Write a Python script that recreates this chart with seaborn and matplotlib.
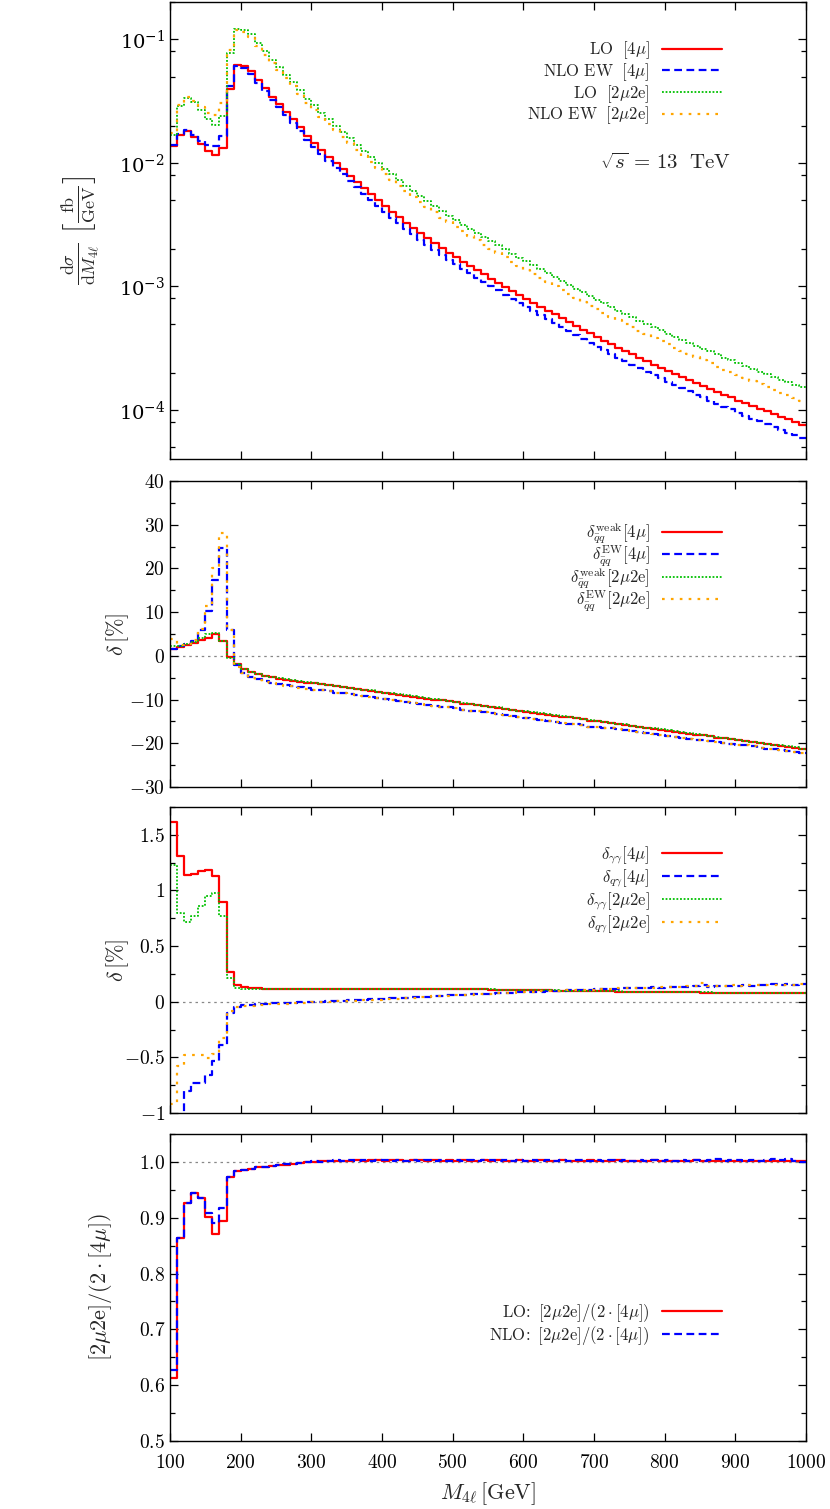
import numpy as np
import pandas as pd
import matplotlib
matplotlib.use("Agg")
import matplotlib.pyplot as plt
import seaborn as sns
from matplotlib.ticker import MultipleLocator, LogLocator, FuncFormatter, NullFormatter

# ---------------- data (10 GeV bins from 100 to 1000 GeV) ----------------
BIN_LO, BIN_HI, BIN_W = 100, 1000, 10
x_ticks = [100, 200, 300, 400, 500, 600, 700, 800, 900, 1000]

# panel 1: dsigma/dM4l [fb/GeV]
lo_4mu = [0.01368, 0.01675, 0.01816, 0.01633, 0.01426, 0.01259, 0.01161, 0.01330, 0.0397, 0.0618,
          0.0610, 0.0556, 0.0470, 0.0403, 0.0344, 0.0301, 0.0260, 0.0226, 0.0195, 0.01656,
          0.01459, 0.01274, 0.01127, 0.01000, 0.00887, 0.00787, 0.00698, 0.00622, 0.00556, 0.00498,
          0.00447, 0.00402, 0.00362, 0.00327, 0.00296, 0.00269, 0.00245, 0.00223, 0.00204, 0.00187,
          0.00172, 0.00158, 0.00146, 0.00135, 0.00125, 0.001156, 0.001072, 0.000993, 0.000920, 0.000855,
          0.000794, 0.000738, 0.000685, 0.000637, 0.000593, 0.000552, 0.000514, 0.000479, 0.000446, 0.000416,
          0.000388, 0.000363, 0.000340, 0.000318, 0.000299, 0.000281, 0.000264, 0.000248, 0.000233, 0.000220,
          0.000207, 0.000195, 0.000185, 0.000174, 0.000165, 0.000156, 0.000148, 0.000140, 0.000132, 0.000126,
          0.000119, 0.000113, 0.000107, 0.000102, 0.0000971, 0.0000923, 0.0000879, 0.0000838, 0.0000798, 0.0000760]
nlo_4mu = [0.01389, 0.01712, 0.01863, 0.01689, 0.01510, 0.01389, 0.01362, 0.01657, 0.0420, 0.0604,
           0.0586, 0.0529, 0.0445, 0.0380, 0.0323, 0.0282, 0.0243, 0.0210, 0.0181, 0.01533,
           0.01347, 0.01173, 0.01036, 0.00916, 0.00811, 0.00718, 0.00635, 0.00565, 0.00504, 0.00450,
           0.00403, 0.00361, 0.00325, 0.00293, 0.00264, 0.00239, 0.00218, 0.00198, 0.00180, 0.00165,
           0.00151, 0.00139, 0.00128, 0.00118, 0.00109, 0.001005, 0.000929, 0.000858, 0.000793, 0.000735,
           0.000681, 0.000632, 0.000585, 0.000542, 0.000503, 0.000468, 0.000434, 0.000404, 0.000375, 0.000349,
           0.000325, 0.000303, 0.000284, 0.000265, 0.000248, 0.000232, 0.000218, 0.000204, 0.000191, 0.000180,
           0.000169, 0.000159, 0.000150, 0.000141, 0.000133, 0.000126, 0.000119, 0.000112, 0.000106, 0.000101,
           0.0000948, 0.0000898, 0.0000849, 0.0000806, 0.0000765, 0.0000725, 0.0000689, 0.0000655, 0.0000622, 0.0000591]
lo_2mu2e = [0.01677, 0.02891, 0.03363, 0.03086, 0.02669, 0.02269, 0.02022, 0.02378, 0.0773, 0.1216,
            0.1203, 0.1099, 0.0931, 0.0799, 0.0683, 0.0598, 0.0517, 0.0451, 0.0389, 0.03309,
            0.02922, 0.02551, 0.02257, 0.02004, 0.01777, 0.01577, 0.01399, 0.01246, 0.01114, 0.00998,
            0.00896, 0.00806, 0.00725, 0.00655, 0.00593, 0.00539, 0.00491, 0.00447, 0.00409, 0.00375,
            0.00345, 0.00317, 0.00293, 0.00271, 0.00251, 0.002317, 0.002148, 0.001990, 0.001844, 0.001713,
            0.001591, 0.001479, 0.001373, 0.001277, 0.001188, 0.001106, 0.001030, 0.000960, 0.000894, 0.000834,
            0.000778, 0.000727, 0.000681, 0.000637, 0.000599, 0.000563, 0.000529, 0.000497, 0.000467, 0.000441,
            0.000415, 0.000391, 0.000371, 0.000349, 0.000331, 0.000313, 0.000297, 0.000281, 0.000265, 0.000252,
            0.000238, 0.000226, 0.000214, 0.000204, 0.0001946, 0.0001850, 0.0001761, 0.0001679, 0.0001599, 0.0001523]
nlo_2mu2e = [0.01745, 0.02958, 0.03450, 0.03192, 0.02827, 0.02525, 0.02427, 0.03039, 0.0817, 0.1189,
             0.1156, 0.1045, 0.0881, 0.0753, 0.0641, 0.0561, 0.0484, 0.0419, 0.0361, 0.03063,
             0.02699, 0.02351, 0.02076, 0.01836, 0.01625, 0.01439, 0.01273, 0.01132, 0.01010, 0.00902,
             0.00808, 0.00723, 0.00651, 0.00587, 0.00529, 0.00479, 0.00437, 0.00397, 0.00361, 0.00331,
             0.00303, 0.00279, 0.00257, 0.00236, 0.00218, 0.002014, 0.001862, 0.001719, 0.001589, 0.001473,
             0.001365, 0.001267, 0.001172, 0.001086, 0.001008, 0.000938, 0.000870, 0.000810, 0.000752, 0.000699,
             0.000651, 0.000607, 0.000569, 0.000531, 0.000497, 0.000465, 0.000437, 0.000409, 0.000383, 0.000361,
             0.000339, 0.000319, 0.000301, 0.000283, 0.000267, 0.000253, 0.000238, 0.000224, 0.000212, 0.000202,
             0.0001900, 0.0001800, 0.0001701, 0.0001615, 0.0001533, 0.0001453, 0.0001381, 0.0001313, 0.0001246, 0.0001184]

# panel 2: delta_qq [%]
d_weak_4mu = [1.5, 2.0, 2.4, 3.0, 3.6, 4.1, 4.9, 3.4, -0.3, -1.8,
              -3.0, -3.7, -4.2, -4.6, -4.9, -5.2, -5.5, -5.7, -5.9, -6.1,
              -6.3, -6.5, -6.7, -7.0, -7.2, -7.4, -7.6, -7.8, -8.0, -8.3,
              -8.5, -8.7, -8.9, -9.1, -9.3, -9.6, -9.8, -10.0, -10.2, -10.4,
              -10.6, -10.9, -11.1, -11.3, -11.5, -11.7, -11.9, -12.2, -12.4, -12.6,
              -12.8, -13.0, -13.2, -13.5, -13.7, -13.9, -14.1, -14.3, -14.5, -14.8,
              -15.0, -15.2, -15.4, -15.6, -15.8, -16.1, -16.3, -16.5, -16.7, -16.9,
              -17.1, -17.4, -17.6, -17.8, -18.0, -18.2, -18.4, -18.7, -18.9, -19.1,
              -19.3, -19.5, -19.7, -20.0, -20.2, -20.4, -20.6, -20.8, -21.0, -21.3]
d_ew_4mu = [1.5, 2.2, 2.6, 3.4, 5.9, 10.3, 17.3, 24.6, 5.9, -2.2,
            -3.9, -4.9, -5.4, -5.8, -6.1, -6.4, -6.7, -6.9, -7.2, -7.4,
            -7.7, -7.9, -8.1, -8.4, -8.6, -8.8, -9.0, -9.2, -9.4, -9.7,
            -9.9, -10.1, -10.3, -10.5, -10.7, -11.0, -11.2, -11.4, -11.6, -11.8,
            -12.0, -12.3, -12.5, -12.7, -12.9, -13.1, -13.3, -13.6, -13.8, -14.0,
            -14.2, -14.4, -14.6, -14.9, -15.1, -15.3, -15.5, -15.7, -15.9, -16.2,
            -16.2, -16.4, -16.6, -16.8, -17.0, -17.3, -17.5, -17.7, -17.9, -18.1,
            -18.3, -18.6, -18.8, -19.0, -19.2, -19.2, -19.4, -19.7, -19.9, -20.1,
            -20.3, -20.5, -20.7, -21.0, -21.2, -21.4, -21.6, -21.8, -22.0, -22.3]
d_weak_2mu2e = [2.3, 2.2, 2.7, 3.2, 4.0, 5.0, 5.3, 3.5, -0.5, -1.8,
                -2.9, -3.6, -4.1, -4.5, -4.8, -5.1, -5.4, -5.6, -5.8, -6.0,
                -6.2, -6.4, -6.6, -6.9, -7.1, -7.3, -7.5, -7.7, -7.9, -8.2,
                -8.4, -8.6, -8.8, -9.0, -9.2, -9.5, -9.7, -9.9, -10.1, -10.3,
                -10.5, -10.8, -11.0, -11.2, -11.4, -11.6, -11.8, -12.1, -12.3, -12.5,
                -12.7, -12.9, -13.1, -13.4, -13.6, -13.8, -14.0, -14.2, -14.4, -14.7,
                -14.9, -15.1, -15.3, -15.5, -15.7, -16.0, -16.2, -16.4, -16.6, -16.8,
                -17.0, -17.3, -17.5, -17.7, -17.9, -18.1, -18.3, -18.6, -18.8, -19.0,
                -19.2, -19.4, -19.6, -19.9, -20.1, -20.3, -20.5, -20.7, -20.9, -21.2]
d_ew_2mu2e = [3.8, 2.5, 2.8, 3.6, 6.2, 11.4, 20.0, 28.0, 6.0, -2.5,
              -4.0, -5.0, -5.5, -5.9, -6.2, -6.5, -6.8, -7.0, -7.3, -7.5,
              -7.7, -7.9, -8.1, -8.4, -8.6, -8.8, -9.0, -9.2, -9.4, -9.7,
              -9.9, -10.1, -10.3, -10.5, -10.7, -11.0, -11.2, -11.4, -11.6, -11.8,
              -12.0, -12.3, -12.5, -12.7, -12.9, -13.1, -13.3, -13.6, -13.8, -14.0,
              -14.2, -14.4, -14.6, -14.9, -15.1, -15.3, -15.5, -15.7, -15.9, -16.2,
              -16.2, -16.4, -16.6, -16.8, -17.0, -17.3, -17.5, -17.7, -17.9, -18.1,
              -18.3, -18.6, -18.8, -19.0, -19.2, -19.2, -19.4, -19.7, -19.9, -20.1,
              -20.3, -20.5, -20.7, -21.0, -21.2, -21.4, -21.6, -21.8, -22.0, -22.3]

# panel 3: photon-induced corrections [%]
d_aa_4mu = [1.618, 1.312, 1.138, 1.147, 1.177, 1.183, 1.132, 0.892, 0.267, 0.153,
            0.132, 0.123, 0.120, 0.118, 0.117, 0.116, 0.116, 0.115, 0.115, 0.115,
            0.115, 0.116, 0.116, 0.116, 0.116, 0.117, 0.117, 0.117, 0.117, 0.117,
            0.117, 0.117, 0.116, 0.116, 0.116, 0.115, 0.115, 0.114, 0.114, 0.113,
            0.112, 0.112, 0.111, 0.110, 0.110, 0.109, 0.108, 0.107, 0.106, 0.105,
            0.104, 0.103, 0.102, 0.101, 0.100, 0.099, 0.098, 0.097, 0.096, 0.095,
            0.094, 0.093, 0.092, 0.091, 0.090, 0.089, 0.088, 0.087, 0.086, 0.085,
            0.085, 0.084, 0.084, 0.083, 0.083, 0.082, 0.082, 0.081, 0.081, 0.080,
            0.080, 0.079, 0.079, 0.078, 0.078, 0.077, 0.077, 0.076, 0.076, 0.075]
d_qa_4mu = [-1.3, -1.1, -0.805, -0.730, -0.730, -0.655, -0.535, -0.385, -0.099, -0.045,
            -0.033, -0.027, -0.022, -0.018, -0.015, -0.012, -0.010, -0.007, -0.005, -0.003,
            0.000, 0.002, 0.005, 0.007, 0.010, 0.013, 0.015, 0.018, 0.021, 0.024,
            0.027, 0.030, 0.033, 0.036, 0.040, 0.043, 0.046, 0.050, 0.053, 0.056,
            0.059, 0.061, 0.065, 0.066, 0.071, 0.072, 0.076, 0.079, 0.080, 0.086,
            0.086, 0.091, 0.090, 0.096, 0.097, 0.099, 0.104, 0.102, 0.108, 0.107,
            0.112, 0.110, 0.118, 0.113, 0.121, 0.120, 0.125, 0.121, 0.129, 0.127,
            0.132, 0.128, 0.136, 0.131, 0.140, 0.146, 0.133, 0.141, 0.138, 0.145,
            0.140, 0.149, 0.142, 0.152, 0.146, 0.155, 0.148, 0.156, 0.150, 0.158]
d_aa_2mu2e = [1.228, 0.793, 0.717, 0.771, 0.861, 0.951, 0.973, 0.766, 0.216, 0.126,
              0.111, 0.111, 0.112, 0.113, 0.114, 0.116, 0.117, 0.117, 0.117, 0.117,
              0.117, 0.118, 0.118, 0.118, 0.118, 0.118, 0.118, 0.118, 0.118, 0.118,
              0.118, 0.118, 0.117, 0.117, 0.117, 0.116, 0.116, 0.115, 0.115, 0.114,
              0.113, 0.113, 0.112, 0.111, 0.111, 0.110, 0.109, 0.108, 0.107, 0.106,
              0.105, 0.104, 0.103, 0.102, 0.101, 0.100, 0.099, 0.098, 0.097, 0.096,
              0.095, 0.094, 0.093, 0.092, 0.091, 0.090, 0.089, 0.088, 0.087, 0.086,
              0.086, 0.085, 0.085, 0.084, 0.084, 0.083, 0.083, 0.082, 0.082, 0.081,
              0.081, 0.080, 0.080, 0.079, 0.079, 0.078, 0.078, 0.077, 0.077, 0.076]
d_qa_2mu2e = [-0.916, -0.580, -0.475, -0.480, -0.475, -0.505, -0.469, -0.325, -0.087, -0.050,
              -0.040, -0.034, -0.030, -0.026, -0.022, -0.019, -0.016, -0.013, -0.010, -0.008,
              -0.005, -0.002, 0.001, 0.003, 0.006, 0.009, 0.011, 0.014, 0.017, 0.020,
              0.023, 0.026, 0.029, 0.033, 0.036, 0.040, 0.043, 0.047, 0.050, 0.054,
              0.058, 0.060, 0.063, 0.067, 0.069, 0.073, 0.075, 0.078, 0.082, 0.083,
              0.087, 0.089, 0.092, 0.094, 0.098, 0.099, 0.101, 0.105, 0.106, 0.109,
              0.111, 0.114, 0.115, 0.119, 0.119, 0.123, 0.124, 0.127, 0.127, 0.131,
              0.130, 0.134, 0.133, 0.137, 0.138, 0.165, 0.140, 0.143, 0.142, 0.146,
              0.144, 0.148, 0.147, 0.150, 0.149, 0.152, 0.151, 0.154, 0.153, 0.156]

# panel 4: [2mu2e]/(2*[4mu])
ratio_lo = [0.613, 0.863, 0.926, 0.945, 0.936, 0.901, 0.871, 0.894, 0.973, 0.984,
            0.986, 0.988, 0.990, 0.991, 0.993, 0.994, 0.995, 0.997, 0.998, 0.999,
            1.000, 1.001, 1.001, 1.002, 1.002, 1.002, 1.003, 1.002, 1.003, 1.003,
            1.002, 1.003, 1.003, 1.002, 1.003, 1.003, 1.002, 1.003, 1.002, 1.003,
            1.002, 1.003, 1.002, 1.002, 1.003, 1.002, 1.003, 1.002, 1.002, 1.003,
            1.002, 1.002, 1.003, 1.002, 1.002, 1.003, 1.002, 1.002, 1.002, 1.003,
            1.002, 1.002, 1.002, 1.003, 1.002, 1.002, 1.002, 1.002, 1.003, 1.002,
            1.002, 1.002, 1.002, 1.002, 1.003, 1.002, 1.002, 1.002, 1.001, 1.002,
            1.002, 1.002, 1.001, 1.002, 1.002, 1.001, 1.002, 1.001, 1.001, 1.001]
ratio_nlo = [0.628, 0.864, 0.926, 0.945, 0.936, 0.909, 0.891, 0.917, 0.973, 0.984,
             0.986, 0.988, 0.990, 0.991, 0.993, 0.994, 0.996, 0.997, 0.998, 0.999,
             1.001, 1.000, 1.002, 1.003, 1.001, 1.004, 1.002, 1.003, 1.001, 1.004,
             1.003, 1.002, 1.004, 1.001, 1.003, 1.002, 1.004, 1.002, 1.003, 1.001,
             1.004, 1.002, 1.003, 1.001, 1.004, 1.003, 1.002, 1.004, 1.001, 1.003,
             1.002, 1.004, 1.002, 1.003, 1.001, 1.004, 1.002, 1.003, 1.004, 1.001,
             1.003, 1.002, 1.004, 1.002, 1.003, 1.001, 1.004, 1.002, 1.003, 1.002,
             1.004, 1.001, 1.003, 1.002, 1.004, 1.002, 1.003, 1.005, 1.002, 1.003,
             1.004, 1.002, 1.003, 1.001, 1.004, 1.005, 1.003, 1.006, 1.002, 0.999]

# ---------------- style ----------------
sns.set_style("ticks")
plt.rcParams.update({
    "mathtext.fontset": "cm",
    "font.family": ["DejaVu Serif"],
    "axes.linewidth": 1.0,
    "xtick.direction": "in", "ytick.direction": "in",
    "xtick.top": True, "ytick.right": True,
    "xtick.major.size": 6, "ytick.major.size": 6,
    "xtick.minor.size": 3.5, "ytick.minor.size": 3.5,
    "xtick.color": "black", "ytick.color": "black",
    "axes.edgecolor": "black",
})

RED, BLUE, GREEN, ORANGE = "#ff0000", "#0000ff", "#00c000", "#ffa500"
STY = {
    "red": dict(color=RED, linestyle="-", lw=1.6),
    "blue": dict(color=BLUE, linestyle=(0, (3.5, 2)), lw=1.6),
    "green": dict(color=GREEN, linestyle=(0, (1, 1)), lw=1.3),
    "orange": dict(color=ORANGE, linestyle=(0, (1.2, 2.8)), lw=1.6),
}

edges = np.arange(BIN_LO, BIN_HI + BIN_W, BIN_W)


def step(ax, vals, sty, label):
    assert len(vals) == len(edges) - 1
    df = pd.DataFrame({"M": edges, "v": list(vals) + [vals[-1]]})
    sns.lineplot(data=df, x="M", y="v", ax=ax, drawstyle="steps-post",
                 estimator=None, sort=False, label=label, **STY[sty])


W, H = 830, 1509
fig = plt.figure(figsize=(W / 100, H / 100), dpi=100)
left, width = 170 / W, 636 / W


def mkax(top_px, bot_px):
    return fig.add_axes([left, (H - bot_px) / H, width, (bot_px - top_px) / H])


ax1 = mkax(2, 459)
ax2 = mkax(481, 787)
ax3 = mkax(807, 1113)
ax4 = mkax(1134, 1441)

TICKFS = 14
LEGFS = 12
LABFS = 16
num_fmt = FuncFormatter(lambda v, p: "$%g$" % v if abs(v) > 1e-9 else "$0$")

# panel 1
step(ax1, lo_4mu, "red", r"$\mathrm{LO}\ \ [4\mu]$")
step(ax1, nlo_4mu, "blue", r"$\mathrm{NLO\ EW}\ \ [4\mu]$")
step(ax1, lo_2mu2e, "green", r"$\mathrm{LO}\ \ [2\mu2\mathrm{e}]$")
step(ax1, nlo_2mu2e, "orange", r"$\mathrm{NLO\ EW}\ \ [2\mu2\mathrm{e}]$")
ax1.set_yscale("log")
ax1.set_ylim(4.0e-5, 0.201)
ax1.yaxis.set_major_locator(LogLocator(base=10, numticks=10))
ax1.yaxis.set_minor_locator(LogLocator(base=10, subs=(2.0, 5.0, 8.0), numticks=20))
ax1.yaxis.set_minor_formatter(NullFormatter())
ax1.set_ylabel(r"$\frac{\mathrm{d}\sigma}{\mathrm{d}M_{4\ell}}\ \left[\frac{\mathrm{fb}}{\mathrm{GeV}}\right]$",
               fontsize=18.5)
ax1.yaxis.set_label_coords(-0.140, 0.5)
ax1.text(0.882, 0.648, r"$\sqrt{s}\,=\,13\ \ \mathrm{TeV}$", transform=ax1.transAxes,
         ha="right", va="center", fontsize=15)

# panel 2
ax2.axhline(0, color="#888888", lw=0.9, ls=(0, (2, 3)), zorder=0)
step(ax2, d_weak_4mu, "red", r"$\delta^{\mathrm{weak}}_{\bar{q}q}[4\mu]$")
step(ax2, d_ew_4mu, "blue", r"$\delta^{\mathrm{EW}}_{\bar{q}q}[4\mu]$")
step(ax2, d_weak_2mu2e, "green", r"$\delta^{\mathrm{weak}}_{\bar{q}q}[2\mu2\mathrm{e}]$")
step(ax2, d_ew_2mu2e, "orange", r"$\delta^{\mathrm{EW}}_{\bar{q}q}[2\mu2\mathrm{e}]$")
ax2.set_ylim(-30, 40)
ax2.yaxis.set_major_locator(MultipleLocator(10))
ax2.yaxis.set_minor_locator(MultipleLocator(5))
ax2.yaxis.set_major_formatter(num_fmt)
ax2.set_ylabel(r"$\delta\,[\%]$", fontsize=LABFS)
ax2.yaxis.set_label_coords(-0.082, 0.5)

# panel 3
ax3.axhline(0, color="#888888", lw=0.9, ls=(0, (2, 3)), zorder=0)
step(ax3, d_aa_4mu, "red", r"$\delta_{\gamma\gamma}[4\mu]$")
step(ax3, d_qa_4mu, "blue", r"$\delta_{q\gamma}[4\mu]$")
step(ax3, d_aa_2mu2e, "green", r"$\delta_{\gamma\gamma}[2\mu2\mathrm{e}]$")
step(ax3, d_qa_2mu2e, "orange", r"$\delta_{q\gamma}[2\mu2\mathrm{e}]$")
ax3.set_ylim(-1, 1.75)
ax3.yaxis.set_major_locator(MultipleLocator(0.5))
ax3.yaxis.set_minor_locator(MultipleLocator(0.25))
ax3.yaxis.set_major_formatter(num_fmt)
ax3.set_ylabel(r"$\delta\,[\%]$", fontsize=LABFS)
ax3.yaxis.set_label_coords(-0.082, 0.5)

# panel 4
ax4.axhline(1.0, color="#888888", lw=0.9, ls=(0, (2, 3)), zorder=0)
step(ax4, ratio_lo, "red", r"$\mathrm{LO}\!:\ [2\mu2\mathrm{e}]/(2\cdot[4\mu])$")
step(ax4, ratio_nlo, "blue", r"$\mathrm{NLO}\!:\ [2\mu2\mathrm{e}]/(2\cdot[4\mu])$")
ax4.set_ylim(0.5, 1.05)
ax4.yaxis.set_major_locator(MultipleLocator(0.1))
ax4.yaxis.set_minor_locator(MultipleLocator(0.05))
ax4.yaxis.set_major_formatter(FuncFormatter(lambda v, p: "$%.1f$" % v))
ax4.set_ylabel(r"$[2\mu2\mathrm{e}]/(2\cdot[4\mu])$", fontsize=LABFS)
ax4.yaxis.set_label_coords(-0.110, 0.5)
ax4.set_xlabel(r"$M_{4\ell}\,[\mathrm{GeV}]$", fontsize=LABFS)
ax4.xaxis.set_label_coords(0.5, -0.128)

legend_cfg = {ax1: (0.918, 0.0), ax2: (0.872, -0.16), ax3: (0.878, 0.06), ax4: (0.456, 0.0)}
for ax in (ax1, ax2, ax3, ax4):
    ax.set_xlim(BIN_LO, BIN_HI)
    ax.set_xticks(x_ticks)
    ax.tick_params(axis="both", which="both", direction="in", top=True, right=True,
                   labelsize=TICKFS, width=0.9)
    ax.tick_params(axis="x", pad=9)
    ax.yaxis.label.set_va("center")
    if ax is not ax4:
        ax.set_xlabel("")
        ax.tick_params(axis="x", labelbottom=False)
    else:
        ax.xaxis.set_major_formatter(FuncFormatter(lambda v, p: "$%d$" % v))
    for s in ax.spines.values():
        s.set_visible(True)
        s.set_color("black")
    ytop, lsp = legend_cfg[ax]
    leg = ax.legend(loc="upper right", bbox_to_anchor=(0.868, ytop),
                    frameon=False, markerfirst=False, fontsize=LEGFS, handlelength=3.6,
                    handletextpad=0.75, labelspacing=lsp, borderpad=0, borderaxespad=0)

fig.savefig("out.png", dpi=100)
